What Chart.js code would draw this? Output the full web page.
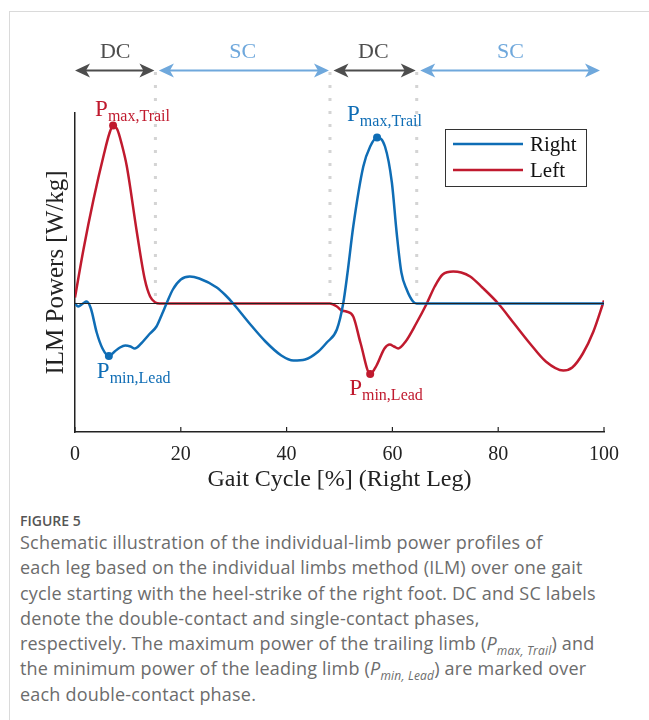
<!DOCTYPE html>
<html>
<head>
<meta charset="utf-8">
<script src="https://cdn.jsdelivr.net/npm/chart.js@4"></script>
<style>
  body { margin: 0; background: #fff; width: 649px; height: 720px; overflow: hidden; position: relative; }
  #frame { position: absolute; left: 9px; top: 11px; width: 700px; height: 760px; border: 1px solid #dadada; }
  #wrap { position: absolute; left: 0; top: 0; width: 649px; height: 500px; }
  #fig { position: absolute; left: 20px; top: 511px; font-family: 'Open Sans', sans-serif; font-size: 14px; font-weight: 600; color: #555; line-height: 20px; }
  #caption { position: absolute; left: 20px; top: 530px; font-family: 'Open Sans', sans-serif; font-size: 18px; letter-spacing: 0.2px; color: #6c6c6c; line-height: 25.3px; white-space: nowrap; }
  #caption sub { font-size: 12px; line-height: 0; }
</style>
</head>
<body>
<div id="frame"></div>
<div id="wrap"><canvas id="ilmChart"></canvas></div>
<div id="fig">FIGURE 5</div>
<div id="caption">
Schematic illustration of the individual-limb power profiles of<br>
each leg based on the individual limbs method (ILM) over one gait<br>
cycle starting with the heel-strike of the right foot. DC and SC labels<br>
denote the double-contact and single-contact phases,<br>
respectively. The maximum power of the trailing limb (<i>P</i><sub><i>max, Trail</i></sub>) and<br>
the minimum power of the leading limb (<i>P</i><sub><i>min, Lead</i></sub>) are marked over<br>
each double-contact phase.
</div>
<script>
// gait cycle [%] and power values
const rightX = [0, 0.6, 1.5, 2.2, 3, 4.1, 5.2, 6.4, 7.5, 8.5, 9.5, 10.5, 11.3, 12.5, 14, 15.4, 16.5, 17.3, 18.5, 20,
  21.7, 23.5, 26.8, 28.5, 29.9, 33, 36, 39, 41.3, 43.5, 46, 47.6, 49.5, 50.7, 51.5, 52.6, 54.5, 55.8, 57.1, 58.6,
  59.9, 60.8, 61.7, 62.7, 63.9, 64.6, 70, 80, 90, 100];
const rightY = [0, -0.03, 0, 0.02, -0.05, -0.29, -0.45, -0.525, -0.48, -0.44, -0.42, -0.43, -0.45, -0.40, -0.31, -0.23, -0.10, 0, 0.14, 0.24,
  0.27, 0.25, 0.16, 0.08, 0, -0.20, -0.38, -0.52, -0.57, -0.56, -0.48, -0.39, -0.26, 0, 0.3, 0.77, 1.37, 1.57, 1.66, 1.57,
  1.21, 0.71, 0.31, 0.14, 0.02, 0, 0, 0, 0, 0];

const leftX = [0, 1.6, 3.5, 5.5, 6.5, 7.2, 8, 8.8, 9.8, 11.7, 13.2, 14.2, 15.2, 16, 30, 48.2, 49.5, 50.4, 51.3, 52.6,
  54, 55.8, 57, 58.5, 59.5, 60.3, 61.1, 62.5, 64.5, 66.5, 68, 69.5, 71.5, 73, 74.7, 77, 80, 83, 86, 89,
  92.3, 94, 96, 98, 100];
const leftY = [0.06, 0.54, 1.04, 1.5, 1.7, 1.78, 1.74, 1.6, 1.37, 0.71, 0.24, 0.07, 0.01, 0, 0, 0, -0.03, -0.07, -0.08, -0.13,
  -0.4, -0.705, -0.62, -0.45, -0.41, -0.43, -0.45, -0.38, -0.2, 0, 0.17, 0.29, 0.32, 0.31, 0.27, 0.16, 0, -0.2, -0.4, -0.58,
  -0.67, -0.64, -0.5, -0.28, 0.03];

const phaseEdges = [0, 15.2, 48.2, 64.6, 100];
const phaseLabels = ['DC', 'SC', 'DC', 'SC'];
const xTicks = [0, 20, 40, 60, 80, 100];

const Y_MIN = -1.285;
const Y_MAX = 1.905;

const SERIF = "'Liberation Serif', 'Times New Roman', serif";
const BLUE = '#0F6DB5';
const RED = '#C01A2E';
const DC_COLOR = '#4d4d4d';
const SC_COLOR = '#6FA8DC';

function toPoints(xs, ys) {
    return xs.map((x, i) => ({ x: x, y: ys[i] }));
}

// find the extreme of a series inside a phase (sign 1 = max, -1 = min)
function extremeIn(xs, ys, lo, hi, sign) {
    let best = -1;
    for (let i = 0; i < xs.length; i++) {
        if (xs[i] < lo || xs[i] > hi) continue;
        if (best < 0 || sign * ys[i] > sign * ys[best]) best = i;
    }
    return { x: xs[best], y: ys[best] };
}

// trailing limb max / leading limb min over each double-contact phase
const markerPoints = [
    extremeIn(leftX, leftY, phaseEdges[0], phaseEdges[1], 1),
    extremeIn(rightX, rightY, phaseEdges[0], phaseEdges[1], -1),
    extremeIn(rightX, rightY, phaseEdges[2], phaseEdges[3], 1),
    extremeIn(leftX, leftY, phaseEdges[2], phaseEdges[3], -1)
];
const markerColors = [RED, BLUE, BLUE, RED];
const markerText = [['P', 'max,Trail'], ['P', 'min,Lead'], ['P', 'max,Trail'], ['P', 'min,Lead']];
const markerOffsets = [{ dx: -18, dy: -10 }, { dx: -12, dy: 22 }, { dx: -30, dy: -17 }, { dx: -21, dy: 21 }];

function drawArrow(ctx, x1, x2, y, color) {
    ctx.save();
    ctx.strokeStyle = color;
    ctx.fillStyle = color;
    ctx.lineWidth = 2;
    ctx.beginPath();
    ctx.moveTo(x1 + 8, y);
    ctx.lineTo(x2 - 8, y);
    ctx.stroke();
    [[x1, 1], [x2, -1]].forEach(function (h) {
        const tip = h[0], d = h[1];
        ctx.beginPath();
        ctx.moveTo(tip, y);
        ctx.lineTo(tip + d * 15, y - 7);
        ctx.lineTo(tip + d * 11, y);
        ctx.lineTo(tip + d * 15, y + 7);
        ctx.closePath();
        ctx.fill();
    });
    ctx.restore();
}

const overlay = {
    id: 'overlay',
    beforeDatasetsDraw(chart) {
        const ctx = chart.ctx;
        const xs = chart.scales.x, ys = chart.scales.y;
        const zeroY = ys.getPixelForValue(0);
        // dotted phase boundaries
        ctx.save();
        ctx.strokeStyle = '#d4d4d4';
        ctx.lineWidth = 3;
        ctx.setLineDash([3, 10]);
        phaseEdges.slice(1, -1).forEach(function (e) {
            const px = xs.getPixelForValue(e);
            ctx.beginPath();
            ctx.moveTo(px, 72);
            ctx.lineTo(px, zeroY);
            ctx.stroke();
        });
        ctx.restore();
    },
    afterDatasetsDraw(chart) {
        const ctx = chart.ctx;
        const xs = chart.scales.x;
        const area = chart.chartArea;

        // phase arrows and labels
        for (let i = 0; i < phaseLabels.length; i++) {
            const a = xs.getPixelForValue(phaseEdges[i]);
            const b = xs.getPixelForValue(phaseEdges[i + 1]);
            const col = phaseLabels[i] === 'DC' ? DC_COLOR : SC_COLOR;
            const start = i === 0 ? a : a + 3.5;
            const end = i === phaseLabels.length - 1 ? b - 4 : b - 1;
            drawArrow(ctx, start, end, 70.5, col);
            ctx.save();
            ctx.fillStyle = col;
            ctx.font = '22px ' + SERIF;
            ctx.textAlign = 'center';
            ctx.textBaseline = 'middle';
            ctx.fillText(phaseLabels[i], (a + b) / 2, 52);
            ctx.restore();
        }

        // inward tick marks on the x axis
        ctx.save();
        ctx.strokeStyle = '#222';
        ctx.lineWidth = 1.2;
        xTicks.forEach(function (t) {
            const px = xs.getPixelForValue(t);
            ctx.beginPath();
            ctx.moveTo(px, area.bottom);
            ctx.lineTo(px, area.bottom - 5);
            ctx.stroke();
        });
        ctx.restore();

        // P labels next to the marked points
        const meta = chart.getDatasetMeta(3);
        meta.data.forEach(function (pt, i) {
            const x0 = pt.x + markerOffsets[i].dx;
            const y0 = pt.y + markerOffsets[i].dy;
            ctx.save();
            ctx.fillStyle = markerColors[i];
            ctx.textBaseline = 'alphabetic';
            ctx.textAlign = 'left';
            ctx.font = '23px ' + SERIF;
            ctx.fillText(markerText[i][0], x0, y0);
            const w = ctx.measureText(markerText[i][0]).width;
            ctx.font = '16px ' + SERIF;
            ctx.fillText(markerText[i][1], x0 + w, y0 + 5);
            ctx.restore();
        });

        // legend box
        ctx.save();
        ctx.strokeStyle = '#333';
        ctx.lineWidth = 1;
        ctx.fillStyle = '#fff';
        ctx.fillRect(445.5, 129.5, 141, 57);
        ctx.strokeRect(445.5, 129.5, 141, 57);
        const items = [[chart.data.datasets[1].label, BLUE, 144], [chart.data.datasets[2].label, RED, 170]];
        items.forEach(function (it) {
            ctx.strokeStyle = it[1];
            ctx.lineWidth = 2.5;
            ctx.beginPath();
            ctx.moveTo(453, it[2]);
            ctx.lineTo(523, it[2]);
            ctx.stroke();
            ctx.fillStyle = '#111';
            ctx.font = '21px ' + SERIF;
            ctx.textBaseline = 'middle';
            ctx.fillText(it[0], 530, it[2] + 1);
        });
        ctx.restore();
    }
};

new Chart(document.getElementById('ilmChart'), {
    type: 'line',
    data: {
        datasets: [
            {
                label: 'zero',
                data: [{ x: 0, y: 0 }, { x: 100, y: 0 }],
                borderColor: '#222',
                borderWidth: 1,
                pointRadius: 0
            },
            {
                label: 'Right',
                data: toPoints(rightX, rightY),
                borderColor: BLUE,
                borderWidth: 2.5,
                pointRadius: 0,
                cubicInterpolationMode: 'monotone'
            },
            {
                label: 'Left',
                data: toPoints(leftX, leftY),
                borderColor: RED,
                borderWidth: 2.5,
                pointRadius: 0,
                cubicInterpolationMode: 'monotone'
            },
            {
                label: 'markers',
                data: markerPoints,
                showLine: false,
                pointRadius: 4,
                pointBackgroundColor: markerColors,
                pointBorderWidth: 0
            }
        ]
    },
    options: {
        responsive: true,
        maintainAspectRatio: false,
        animation: false,
        layout: { padding: { top: 113, right: 45, bottom: 0, left: 0 } },
        plugins: {
            legend: { display: false },
            tooltip: { enabled: false }
        },
        scales: {
            x: {
                type: 'linear',
                min: 0,
                max: 100,
                afterFit: function (scale) { scale.height = 68; },
                afterBuildTicks: function (scale) { scale.ticks = xTicks.map(v => ({ value: v })); },
                ticks: { color: '#222', font: { family: SERIF, size: 20 }, padding: 3, maxRotation: 0 },
                grid: { display: false },
                border: { color: '#222', width: 1.5 },
                title: {
                    display: true,
                    text: 'Gait Cycle [%] (Right Leg)',
                    color: '#222',
                    font: { family: SERIF, size: 24 },
                    padding: { top: 0, bottom: 5.6 }
                }
            },
            y: {
                min: Y_MIN,
                max: Y_MAX,
                afterFit: function (scale) { scale.width = 75; },
                ticks: { display: false },
                grid: { display: false },
                border: { color: '#222', width: 1.5 },
                title: {
                    display: true,
                    text: 'ILM Powers [W/kg]',
                    color: '#222',
                    font: { family: SERIF, size: 25 },
                    padding: { top: 41, bottom: 0 }
                }
            }
        }
    },
    plugins: [overlay]
});
</script>
</body>
</html>
